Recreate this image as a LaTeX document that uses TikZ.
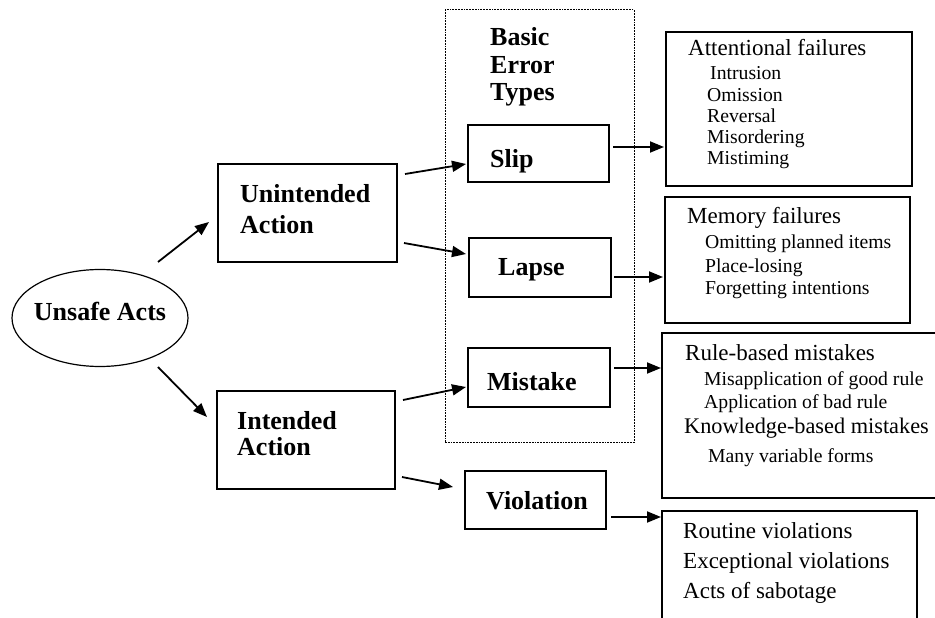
\documentclass[tikz,border=0pt]{standalone}
\usepackage{fontspec}
\setmainfont{Liberation Serif}
\usetikzlibrary{arrows.meta,shapes.geometric}
\tikzset{
  box/.style={draw, line width=1.8pt, rectangle, inner sep=0pt, outer sep=0pt, anchor=north west},
  arr/.style={line width=1.8pt, -{Triangle[length=14pt,width=11pt]}},
  lbl/.style={anchor=base west, inner sep=0pt, font=\fontsize{26}{30}\selectfont\bfseries},
  head/.style={anchor=base west, inner sep=0pt, font=\fontsize{23}{27}\selectfont},
  item/.style={anchor=base west, inner sep=0pt, font=\fontsize{19.7}{23}\selectfont},
}
\begin{document}
\begin{tikzpicture}[x=1pt,y=-1pt]
\useasboundingbox (0,0) rectangle (935,618);
\fill[white] (0,0) rectangle (935,618);

% ellipse
\node[draw, ellipse, line width=1.2pt, minimum width=176, minimum height=97, inner sep=0pt, outer sep=0pt] (ell) at (100,318) {};
\node[lbl, anchor=base] (tell) at (100,320) {Unsafe Acts};

% dashed group
\node[box, draw, densely dotted, line width=1pt, minimum width=189, minimum height=432] (grp) at (445,10) {};
\node[lbl] (tgrp1) at (490,46) {Basic};
\node[lbl] (tgrp2) at (490,74) {Error};
\node[lbl] (tgrp3) at (490,101) {Types};

% left boxes
\node[box, minimum width=179, minimum height=98] (unint) at (218,164) {};
\node[lbl] (tunint1) at (240,202) {Unintended};
\node[lbl] (tunint2) at (240,233) {Action};

\node[box, minimum width=178, minimum height=98] (int) at (217,391) {};
\node[lbl] (tint1) at (237,429) {Intended};
\node[lbl] (tint2) at (237,455) {Action};

% middle boxes
\node[box, minimum width=141, minimum height=57] (slip) at (468,125) {};
\node[lbl] (tslip) at (490,167) {Slip};
\node[box, minimum width=142, minimum height=59] (lapse) at (469,238) {};
\node[lbl] (tlapse) at (498,275) {Lapse};
\node[box, minimum width=142, minimum height=59] (mist) at (468,348) {};
\node[lbl] (tmist) at (487,390) {Mistake};
\node[box, minimum width=141, minimum height=58] (viol) at (465,471) {};
\node[lbl] (tviol) at (486,509) {Violation};

% right boxes
\node[box, minimum width=246, minimum height=154] (att) at (666,32) {};
\node[head] (ta0) at (688,56) {Attentional failures};
\node[item] (ta1) at (710,80) {Intrusion};
\node[item] (ta2) at (707,102) {Omission};
\node[item] (ta3) at (707,122) {Reversal};
\node[item] (ta4) at (707,143) {Misordering};
\node[item] (ta5) at (707,164) {Mistiming};

\node[box, minimum width=245, minimum height=126] (mem) at (665,197) {};
\node[head] (tm0) at (687,223) {Memory failures};
\node[item] (tm1) at (705,248) {Omitting planned items};
\node[item] (tm2) at (705,272) {Place-losing};
\node[item] (tm3) at (705,294) {Forgetting intentions};

\node[box, minimum width=300, minimum height=165] (rule) at (662,333) {};
\node[head] (tr0) at (685,360) {Rule-based mistakes};
\node[item] (tr1) at (704,385) {Misapplication of good rule};
\node[item] (tr2) at (704,408) {Application of bad rule};
\node[head, font=\fontsize{22.3}{26}\selectfont] (tr3) at (684,433) {Knowledge-based mistakes};
\node[item] (tr4) at (708,462) {Many variable forms};

\node[box, minimum width=255, minimum height=140] (vio) at (662,511) {};
\node[head] (tv1) at (683,538) {Routine violations};
\node[head] (tv2) at (683,568) {Exceptional violations};
\node[head] (tv3) at (683,598) {Acts of sabotage};

% connectors
\draw[arr] ([shift={(58,-56)}]ell.center) -- ([shift={(-9,58)}]unint.north west);
\draw[arr] ([shift={(58,49)}]ell.center) -- ([shift={(-10,26)}]int.north west);
\draw[arr] ([shift={(8,10)}]unint.north east) -- ([shift={(-2,-18)}]slip.south west);
\draw[arr] ([shift={(7,-19)}]unint.south east) -- ([shift={(-3,16)}]lapse.north west);
\draw[arr] ([shift={(8,9)}]int.north east) -- ([shift={(-2,-20)}]mist.south west);
\draw[arr] ([shift={(7,-12)}]int.south east) -- ([shift={(-12,16)}]viol.north west);
\draw[arr] ([shift={(4,22)}]slip.north east) -- ([shift={(-2,115)}]att.north west);
\draw[arr] ([shift={(3,-20)}]lapse.south east) -- ([shift={(-2,80)}]mem.north west);
\draw[arr] ([shift={(4,20)}]mist.north east) -- ([shift={(-1,35)}]rule.north west);
\draw[arr] ([shift={(5,-12)}]viol.south east) -- ([shift={(-1,6)}]vio.north west);
\end{tikzpicture}
\end{document}
